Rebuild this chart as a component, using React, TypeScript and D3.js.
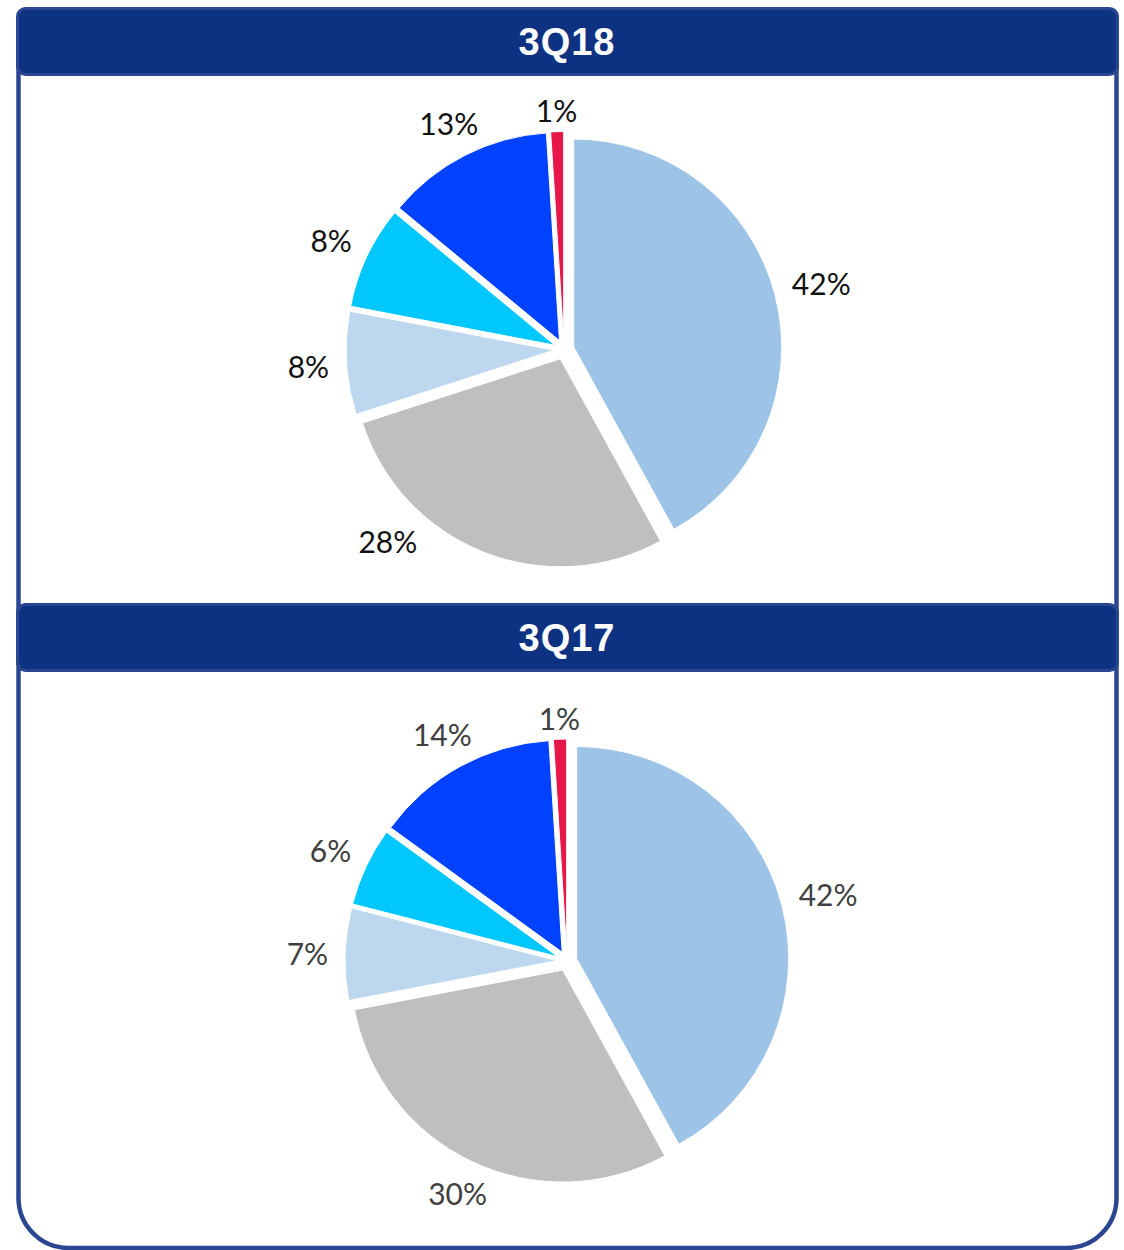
import * as d3 from "d3";

// quarters shown, top panel first
const periods = ["3Q18", "3Q17"];
// slice order clockwise from 12 o'clock
const segments = ["Seg A", "Seg B", "Seg C", "Seg D", "Seg E", "Seg F"];
const share3Q18 = [42, 28, 8, 8, 13, 1];
const share3Q17 = [42, 30, 7, 6, 14, 1];
const sliceColors = ["#9dc3e6", "#bfbfbf", "#bdd7ee", "#00c8ff", "#0042ff", "#e8174a"];

const W = 1124,
  H = 1250;
const navy = "#0e3282";
const navyEdge = "#2b4691";
const labelFont = "Lato, 'Open Sans', sans-serif";
const labelSize = 30;

type PanelCfg = {
  values: number[];
  title: string;
  headerY: number;
  cx: number;
  cy: number;
  r: number;
  labelColor: string;
  labelMaxY: number;
};

const panels: PanelCfg[] = [
  { values: share3Q18, title: periods[0], headerY: 8.5, cx: 564, cy: 349.5, r: 208, labelColor: "#111", labelMaxY: 552 },
  { values: share3Q17, title: periods[1], headerY: 604.5, cx: 567, cy: 961, r: 212, labelColor: "#404040", labelMaxY: 1240 },
];

const explode = 10;
const pad = 10;

function textWidth(s: string) {
  let w = 0;
  for (const ch of s) w += ch === "%" ? 0.85 : 0.58;
  return w * labelSize;
}

function Pie({ p }: { p: PanelCfg }) {
  const pie = d3
    .pie<number>()
    .sort(null)
    .value((d) => d);
  const arcs = pie(p.values);
  const arc = d3.arc<d3.PieArcDatum<number>>().innerRadius(0).outerRadius(p.r);

  const labelPos = (mid: number, txt: string) => {
    const w = textWidth(txt),
      h = labelSize * 0.7;
    const at = (t: number) => {
      const dx = Math.sin(t),
        dy = -Math.cos(t);
      const dist = p.r + explode + pad + Math.abs(dx) * (w / 2 + 6) + Math.abs(dy) * (h / 2);
      return [p.cx + dx * dist, p.cy + dy * dist];
    };
    let t = mid;
    let pos = at(t);
    // rotate away from the bottom until the label fits in the panel
    let guard = 0;
    while (pos[1] + h / 2 > p.labelMaxY && guard < 90) {
      t += mid > Math.PI ? Math.PI / 180 : -Math.PI / 180;
      pos = at(t);
      guard++;
    }
    return pos;
  };

  return (
    <g>
      {arcs.map((a, i) => {
        const mid = (a.startAngle + a.endAngle) / 2;
        const ox = Math.sin(mid) * explode,
          oy = -Math.cos(mid) * explode;
        return (
          <path
            key={segments[i]}
            d={arc(a) ?? ""}
            transform={`translate(${p.cx + ox},${p.cy + oy})`}
            fill={sliceColors[i]}
            stroke="#fff"
            strokeWidth={1}
          />
        );
      })}
      {arcs.map((a, i) => {
        const mid = (a.startAngle + a.endAngle) / 2;
        const txt = `${a.data}%`;
        const [x, y] = labelPos(mid, txt);
        return (
          <text
            key={"l" + i}
            x={x}
            y={y}
            textAnchor="middle"
            dominantBaseline="central"
            fontFamily={labelFont}
            fontSize={labelSize}
            fill={p.labelColor}
          >
            {txt}
          </text>
        );
      })}
    </g>
  );
}

export default function App() {
  const left = 18.5,
    right = 1116.5,
    bottom = 1248,
    rad = 50;
  const frame = `M${left},40 V${bottom - rad} A${rad},${rad} 0 0 0 ${left + rad},${bottom} H${right - rad} A${rad},${rad} 0 0 0 ${right},${bottom - rad} V40`;

  return (
    <svg
      width={W}
      height={H}
      style={{ position: "absolute", left: 0, top: 0, background: "#fff" }}
    >
      <path d={frame} fill="none" stroke={navyEdge} strokeWidth={4.5} />
      {panels.map((p) => (
        <g key={p.title}>
          <Pie p={p} />
          <rect
            x={17.5}
            y={p.headerY}
            width={1100}
            height={66}
            rx={8}
            fill={navy}
            stroke={navyEdge}
            strokeWidth={3}
          />
          <text
            x={567}
            y={p.headerY + 33}
            textAnchor="middle"
            dominantBaseline="central"
            fontFamily="'Liberation Sans', Arial, sans-serif"
            fontWeight="bold"
            fontSize={38}
            letterSpacing={1}
            fill="#fff"
          >
            {p.title}
          </text>
        </g>
      ))}
    </svg>
  );
}
